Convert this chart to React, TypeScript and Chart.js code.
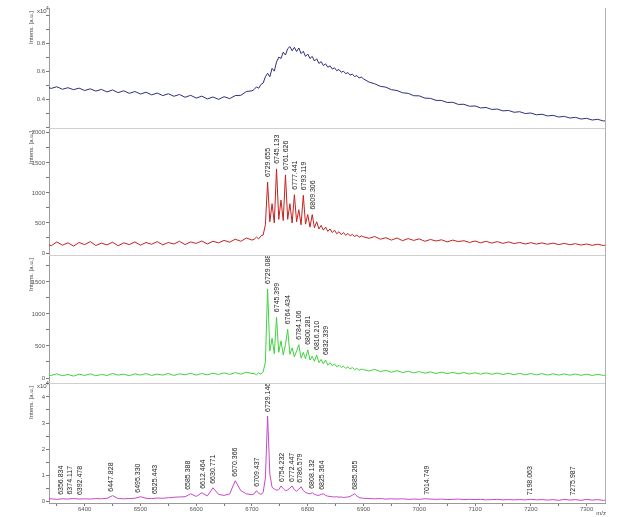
import React, { useEffect, useRef } from 'react';
import { Chart, registerables } from 'chart.js';

Chart.register(...registerables);

// m/z grid (Da)
const mz = [
  6330, 6340, 6350, 6360, 6370, 6380, 6390, 6400, 6410, 6420, 6430, 6440, 6450, 6460, 6470, 6480, 6490, 6500, 6510, 6520,
  6530, 6540, 6550, 6560, 6570, 6580, 6590, 6600, 6610, 6620, 6630, 6640, 6650, 6660, 6670, 6680, 6690, 6700,
  6704, 6708, 6712, 6716, 6720, 6724, 6728, 6732, 6736, 6740, 6744, 6748, 6752, 6756, 6760, 6764, 6768, 6772, 6776, 6780,
  6784, 6788, 6792, 6796, 6800, 6804, 6808, 6812, 6816, 6820, 6824, 6828, 6832, 6836, 6840, 6844, 6848, 6852, 6856, 6860,
  6864, 6868, 6872, 6876, 6880, 6884, 6888, 6892, 6896,
  6900, 6910, 6920, 6930, 6940, 6950, 6960, 6970, 6980, 6990, 7000, 7010, 7020, 7030, 7040, 7050, 7060, 7070, 7080, 7090,
  7100, 7110, 7120, 7130, 7140, 7150, 7160, 7170, 7180, 7190, 7200, 7210, 7220, 7230, 7240, 7250, 7260, 7270, 7280, 7290,
  7300, 7310, 7320, 7330, 7340,
];

// top panel (x10^4 a.u.)
const blueInt = [
  0.490, 0.477, 0.489, 0.471, 0.482, 0.468, 0.479, 0.462, 0.474, 0.458, 0.470, 0.452, 0.466, 0.447, 0.460, 0.442, 0.455, 0.437, 0.450, 0.431,
  0.444, 0.426, 0.439, 0.421, 0.434, 0.414, 0.428, 0.408, 0.422, 0.402, 0.416, 0.399, 0.418, 0.404, 0.426, 0.428, 0.455, 0.460,
  0.470, 0.488, 0.478, 0.505, 0.515, 0.560, 0.585, 0.560, 0.620, 0.600, 0.665, 0.700, 0.690, 0.735, 0.715, 0.760, 0.775, 0.745, 0.770, 0.740,
  0.765, 0.725, 0.742, 0.705, 0.722, 0.690, 0.705, 0.672, 0.688, 0.655, 0.668, 0.640, 0.652, 0.628, 0.638, 0.615, 0.624, 0.603, 0.612, 0.592,
  0.600, 0.582, 0.590, 0.572, 0.579, 0.561, 0.569, 0.551, 0.558,
  0.545, 0.522, 0.510, 0.492, 0.486, 0.468, 0.462, 0.446, 0.442, 0.425, 0.424, 0.408, 0.406, 0.392, 0.391, 0.377, 0.378, 0.363, 0.364, 0.350,
  0.352, 0.338, 0.341, 0.327, 0.330, 0.317, 0.320, 0.307, 0.311, 0.298, 0.302, 0.289, 0.293, 0.281, 0.285, 0.273, 0.278, 0.266, 0.271, 0.259,
  0.264, 0.252, 0.257, 0.245, 0.249,
];

// second panel (a.u.)
const redInt = [
  160, 120, 185, 130, 170, 115, 175, 140, 190, 125, 165, 135, 180, 120, 170, 140, 185, 130, 175, 145,
  190, 135, 175, 150, 195, 140, 185, 160, 200, 150, 195, 170, 210, 180, 230, 195, 250, 215,
  230, 265, 235, 285, 300, 470, 1180, 520, 820, 500, 1400, 560, 880, 540, 1300, 560, 820, 500, 970, 520,
  720, 470, 960, 480, 640, 430, 640, 420, 520, 400, 460, 380, 430, 360, 400, 340, 380, 320, 355, 305,
  340, 295, 325, 285, 310, 275, 300, 262, 285,
  270, 245, 275, 230, 255, 215, 250, 205, 240, 210, 235, 195, 225, 200, 220, 185, 215, 190, 205, 175,
  200, 170, 195, 165, 190, 160, 185, 158, 175, 150, 172, 148, 168, 145, 165, 140, 160, 138, 155, 132,
  150, 128, 146, 125, 140,
];

// third panel (a.u.)
const greenInt = [
  60, 40, 65, 35, 55, 30, 60, 40, 65, 35, 55, 40, 70, 45, 60, 35, 65, 45, 70, 40,
  60, 45, 70, 40, 65, 50, 75, 45, 70, 50, 75, 55, 80, 55, 85, 60, 90, 70,
  70, 50, 80, 60, 95, 250, 1390, 420, 620, 380, 950, 400, 580, 360, 520, 760, 370, 470, 330, 420,
  520, 310, 400, 300, 440, 280, 340, 260, 360, 240, 290, 220, 280, 200, 240, 190, 220, 175, 200, 165,
  185, 150, 175, 140, 165, 130, 150, 120, 140,
  130, 110, 135, 100, 120, 90, 115, 85, 105, 80, 100, 75, 95, 70, 92, 68, 88, 65, 85, 62,
  82, 60, 80, 58, 76, 55, 74, 52, 72, 50, 70, 48, 68, 46, 66, 45, 64, 44, 62, 42,
  60, 40, 58, 40, 55,
];

// bottom panel (x10^4 a.u.)
const magentaInt = [
  0.10, 0.11, 0.09, 0.11, 0.10, 0.12, 0.10, 0.11, 0.10, 0.12, 0.11, 0.13, 0.23, 0.12, 0.11, 0.12, 0.13, 0.19, 0.13, 0.12,
  0.14, 0.13, 0.15, 0.17, 0.18, 0.19, 0.30, 0.20, 0.34, 0.22, 0.53, 0.28, 0.24, 0.30, 0.80, 0.42, 0.30, 0.27,
  0.30, 0.42, 0.32, 0.28, 0.35, 0.90, 3.27, 1.05, 0.55, 0.48, 0.44, 0.46, 0.60, 0.50, 0.42, 0.45, 0.52, 0.60, 0.46, 0.40,
  0.48, 0.57, 0.42, 0.35, 0.32, 0.30, 0.34, 0.28, 0.25, 0.24, 0.28, 0.30, 0.24, 0.21, 0.20, 0.19, 0.18, 0.19, 0.17, 0.18,
  0.16, 0.17, 0.18, 0.20, 0.25, 0.30, 0.22, 0.16, 0.14,
  0.13, 0.12, 0.11, 0.12, 0.10, 0.11, 0.10, 0.11, 0.09, 0.10, 0.09, 0.11, 0.10, 0.09, 0.10, 0.08, 0.09, 0.10, 0.08, 0.09,
  0.08, 0.09, 0.07, 0.08, 0.09, 0.07, 0.08, 0.07, 0.08, 0.07, 0.09, 0.07, 0.08, 0.06, 0.08, 0.05, 0.09, 0.06, 0.08, 0.05,
  0.09, 0.06, 0.08, 0.05, 0.08,
];

// peak annotations
const redPeaks = ['6729.655', '6745.133', '6761.626', '6777.441', '6793.119', '6809.306'];
const greenPeaks = ['6729.088', '6745.399', '6764.434', '6784.106', '6800.281', '6816.210', '6832.339'];
const magentaPeaks = [
  '6356.834', '6374.117', '6392.478', '6447.828', '6495.330', '6525.443', '6585.388', '6612.464', '6630.771',
  '6670.366', '6709.437', '6729.146', '6754.232', '6772.447', '6786.579', '6808.132', '6825.364', '6885.265',
  '7014.749', '7198.063', '7275.987',
];

// tick labels
const xTickLabels = [6400, 6500, 6600, 6700, 6800, 6900, 7000, 7100, 7200, 7300];
const blueTickLabels = [0.4, 0.6, 0.8];
const redTickLabels = [0, 500, 1000, 1500, 2000];
const greenTickLabels = [0, 500, 1000, 1500];
const magentaTickLabels = [0, 1, 2, 3, 4];

const FONT = '"Liberation Sans", Arial, sans-serif';

const labelSets = [
  { axis: 'yR', values: redInt, peaks: redPeaks, gap: 5 },
  { axis: 'yG', values: greenInt, peaks: greenPeaks, gap: 5 },
  { axis: 'yM', values: magentaInt, peaks: magentaPeaks, gap: 4 },
];

const peakLabelPlugin = {
  id: 'peakLabels',
  afterDatasetsDraw(chart: any) {
    const ctx = chart.ctx;
    const xs = chart.scales.x;
    ctx.save();
    ctx.fillStyle = '#1a1a1a';
    ctx.font = `7px ${FONT}`;
    for (const set of labelSets) {
      const ys = chart.scales[set.axis];
      set.peaks.forEach((txt: string) => {
        const m = parseFloat(txt);
        let best = -Infinity;
        for (let k = 0; k < mz.length; k++) {
          if (Math.abs(mz[k] - m) <= 6 && set.values[k] > best) best = set.values[k];
        }
        const px = xs.getPixelForValue(m);
        const py = ys.getPixelForValue(best) - set.gap;
        ctx.save();
        ctx.translate(px, py);
        ctx.rotate(-Math.PI / 2);
        ctx.textAlign = 'left';
        ctx.textBaseline = 'middle';
        ctx.fillText(txt, 0, 0);
        ctx.restore();
      });
    }
    ctx.restore();
  },
};

const decorPlugin = {
  id: 'decor',
  afterDraw(chart: any) {
    const { ctx, chartArea: a } = chart;
    ctx.save();
    ctx.strokeStyle = '#cfcfcf';
    ctx.lineWidth = 1;
    for (const id of ['yB', 'yR', 'yG']) {
      const s = chart.scales[id];
      const y = Math.round(s.bottom) + 0.5;
      ctx.beginPath();
      ctx.moveTo(a.left, y);
      ctx.lineTo(a.right, y);
      ctx.stroke();
    }
    ctx.strokeStyle = '#b0b0b0';
    const rx = Math.round(a.right) + 0.5;
    ctx.beginPath();
    ctx.moveTo(rx, a.top);
    ctx.lineTo(rx, a.bottom);
    ctx.stroke();

    ctx.fillStyle = '#444';
    ctx.font = `6px ${FONT}`;
    for (const id of ['yB', 'yR', 'yG', 'yM']) {
      const s = chart.scales[id];
      ctx.save();
      ctx.translate(31, s.top + 3);
      ctx.rotate(-Math.PI / 2);
      ctx.textAlign = 'right';
      ctx.textBaseline = 'middle';
      ctx.fillText('Intens. [a.u.]', 0, 0);
      ctx.restore();
    }
    for (const id of ['yB', 'yM']) {
      const s = chart.scales[id];
      ctx.textAlign = 'left';
      ctx.textBaseline = 'middle';
      ctx.font = `6px ${FONT}`;
      ctx.fillText('x10', 37, s.top + 3);
      ctx.font = `5px ${FONT}`;
      ctx.fillText('4', 46, s.top + 1);
    }
    ctx.font = `6px ${FONT}`;
    ctx.textAlign = 'right';
    ctx.textBaseline = 'middle';
    ctx.fillText('m/z', 606, 513);
    ctx.restore();
  },
};

function stepTicks(s: any, step: number) {
  const out: { value: number }[] = [];
  const start = Math.ceil(s.min / step - 1e-9);
  const end = Math.floor(s.max / step + 1e-9);
  for (let k = start; k <= end; k++) out.push({ value: +(k * step).toFixed(6) });
  s.ticks = out;
}

function yScale(min: number, max: number, step: number, weight: number, labels: number[], fmt: (v: number) => string) {
  return {
    type: 'linear',
    position: 'left',
    stack: 'panels',
    stackWeight: weight,
    min,
    max,
    afterBuildTicks: (s: any) => stepTicks(s, step),
    afterFit: (s: any) => { s.width = 49; },
    border: { display: true, color: '#9a9a9a', width: 1 },
    grid: { drawOnChartArea: false, drawTicks: true, tickLength: 3, color: '#777' },
    ticks: {
      autoSkip: false,
      padding: 1,
      color: '#555',
      font: { size: 6, family: FONT },
      callback: (v: number) => {
        const hit = labels.find((l) => Math.abs(l - v) < step / 10);
        return hit === undefined ? '' : fmt(hit);
      },
    },
  };
}

export default function App() {
  const ref = useRef<HTMLCanvasElement>(null);

  useEffect(() => {
    if (!ref.current) return;
    const mk = (vals: number[]) => mz.map((m, i) => ({ x: m, y: vals[i] }));
    const common = { pointRadius: 0, borderWidth: 1, fill: false, tension: 0 };
    const chart = new Chart(ref.current, {
      type: 'line',
      data: {
        datasets: [
          { ...common, label: 'blue', data: mk(blueInt), yAxisID: 'yB', borderColor: '#2c2e7e' },
          { ...common, label: 'red', data: mk(redInt), yAxisID: 'yR', borderColor: '#c4221f' },
          { ...common, label: 'green', data: mk(greenInt), yAxisID: 'yG', borderColor: '#3ed43e' },
          { ...common, label: 'magenta', data: mk(magentaInt), yAxisID: 'yM', borderColor: '#c747c7' },
        ],
      },
      options: {
        animation: false,
        responsive: false,
        devicePixelRatio: 1,
        layout: { padding: { left: 0, right: 13, top: 8, bottom: 0 } },
        plugins: { legend: { display: false }, tooltip: { enabled: false } },
        scales: {
          x: {
            type: 'linear',
            position: 'bottom',
            min: 6336,
            max: 7333,
            afterBuildTicks: (s: any) => stepTicks(s, 50),
            afterFit: (s: any) => { s.height = 14; },
            border: { display: true, color: '#9a9a9a', width: 1 },
            grid: { drawOnChartArea: false, drawTicks: true, tickLength: 3, color: '#777' },
            ticks: {
              autoSkip: false,
              maxRotation: 0,
              padding: 0,
              color: '#555',
              font: { size: 6, family: FONT },
              callback: (v: number) => (xTickLabels.includes(v) ? String(v) : ''),
            },
          },
          yM: yScale(-0.05, 4.53, 0.5, 120, magentaTickLabels, (v) => String(v)),
          yG: yScale(-78, 1920, 250, 128, greenTickLabels, (v) => String(v)),
          yR: yScale(-33, 2080, 250, 127, redTickLabels, (v) => String(v)),
          yB: yScale(0.195, 1.05, 0.1, 120, blueTickLabels, (v) => v.toFixed(1)),
        },
      } as any,
      plugins: [peakLabelPlugin, decorPlugin],
    });
    return () => chart.destroy();
  }, []);

  return (
    <div style={{ position: 'fixed', left: 0, top: 0, width: 618, height: 517, background: '#fff' }}>
      <canvas ref={ref} width={618} height={517} style={{ display: 'block' }} />
    </div>
  );
}
